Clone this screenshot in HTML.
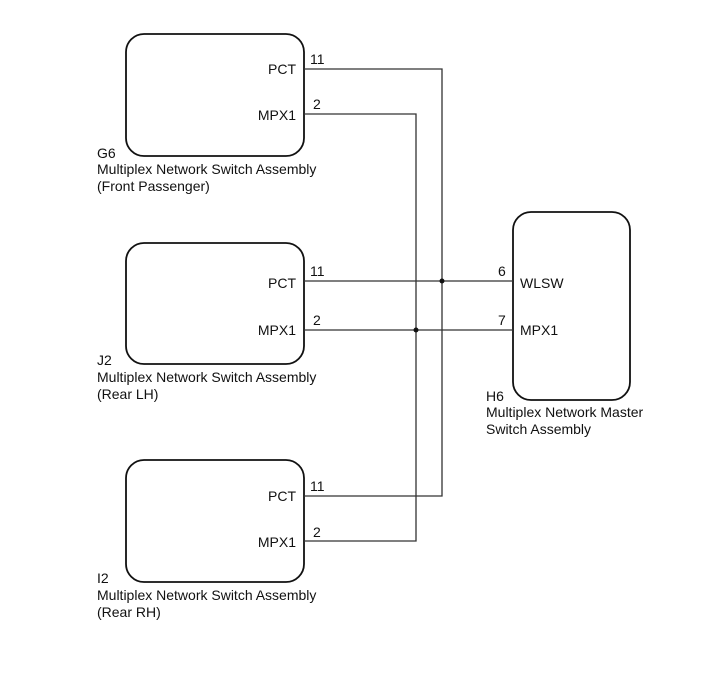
<!DOCTYPE html>
<html><head><style>
html,body{margin:0;padding:0;background:#fff;}
svg text{font-family:"Liberation Sans",Arial,sans-serif;font-size:14px;fill:#111;}
</style></head><body>
<svg width="713" height="681" viewBox="0 0 713 681" xmlns="http://www.w3.org/2000/svg">
<g fill="none" stroke="#111" stroke-width="1.8">
<rect x="126" y="34" width="178" height="122" rx="18"/>
<rect x="126" y="243" width="178" height="121" rx="18"/>
<rect x="126" y="460" width="178" height="122" rx="18"/>
<rect x="513" y="212" width="117" height="188" rx="18"/>
</g>
<g fill="none" stroke="#333" stroke-width="1.3">
<polyline points="304,69 442,69 442,496 304,496"/>
<polyline points="304,114 416,114 416,541 304,541"/>
<line x1="304" y1="281" x2="513" y2="281"/>
<line x1="304" y1="330" x2="513" y2="330"/>
</g>
<circle cx="442" cy="281" r="2.5" fill="#111"/>
<circle cx="416" cy="330" r="2.5" fill="#111"/>
<g text-anchor="end">
<text x="296" y="74">PCT</text><text x="296" y="120">MPX1</text>
<text x="296" y="288">PCT</text><text x="296" y="335">MPX1</text>
<text x="296" y="501">PCT</text><text x="296" y="547">MPX1</text>
</g>
<text x="310" y="64">11</text><text x="313" y="109">2</text>
<text x="310" y="276">11</text><text x="313" y="325">2</text>
<text x="310" y="491">11</text><text x="313" y="537">2</text>
<text x="498" y="276">6</text><text x="498" y="325">7</text>
<text x="520" y="288">WLSW</text><text x="520" y="335">MPX1</text>
<text x="97" y="158">G6</text>
<text x="97" y="174">Multiplex Network Switch Assembly</text>
<text x="97" y="191">(Front Passenger)</text>
<text x="97" y="365">J2</text>
<text x="97" y="382">Multiplex Network Switch Assembly</text>
<text x="97" y="399">(Rear LH)</text>
<text x="97" y="583">I2</text>
<text x="97" y="600">Multiplex Network Switch Assembly</text>
<text x="97" y="617">(Rear RH)</text>
<text x="486" y="401">H6</text>
<text x="486" y="417">Multiplex Network Master</text>
<text x="486" y="434">Switch Assembly</text>
</svg>
</body></html>
